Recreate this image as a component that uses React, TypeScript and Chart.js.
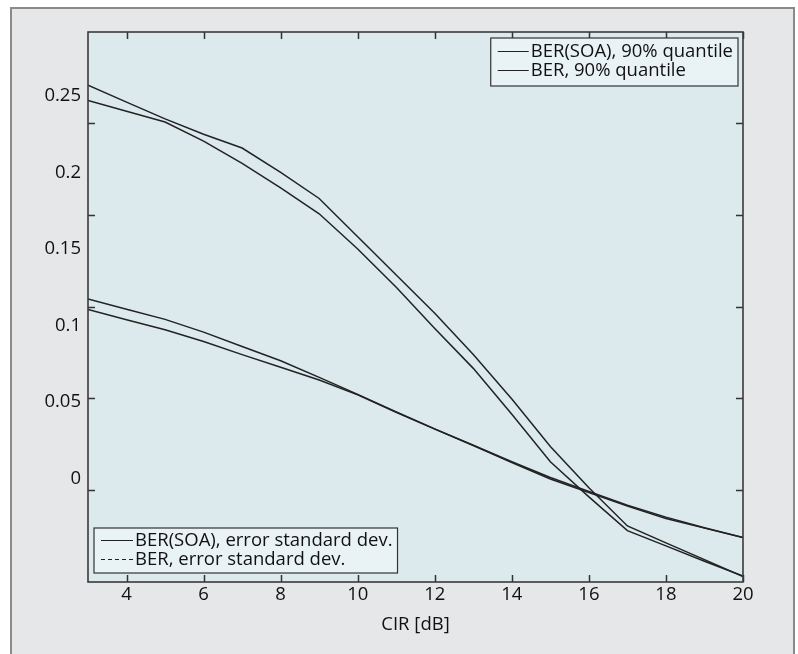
import React, { useEffect, useRef } from 'react';
import { Chart, registerables } from 'chart.js';

Chart.register(...registerables);

// ---- data ----
const cir = [3, 4, 5, 6, 7, 8, 9, 10, 11, 12, 13, 14, 15, 16, 17, 18, 19, 20];
const berSoaQuantile = [0.257, 0.246, 0.235, 0.225, 0.216, 0.2, 0.183, 0.158, 0.133, 0.108, 0.081, 0.052, 0.021, -0.006, -0.031, -0.042, -0.053, -0.064];
const berQuantile = [0.247, 0.24, 0.233, 0.2205, 0.206, 0.19, 0.173, 0.15, 0.125, 0.098, 0.072, 0.042, 0.011, -0.012, -0.034, -0.044, -0.054, -0.0637];
const berSoaStd = [0.1173, 0.1106, 0.104, 0.0957, 0.0863, 0.077, 0.0661, 0.055, 0.0435, 0.0325, 0.0218, 0.011, 0.0007, -0.0085, -0.0174, -0.0252, -0.0321, -0.0386];
const berStd = [0.1105, 0.1038, 0.0972, 0.0895, 0.081, 0.0727, 0.0644, 0.0547, 0.0433, 0.0323, 0.0216, 0.0105, -0.0003, -0.0092, -0.018, -0.0261, -0.0324, -0.0386];

const xTickValues = [4, 6, 8, 10, 12, 14, 16, 18, 20];
const yTickLabels = [0, 0.05, 0.1, 0.15, 0.2, 0.25];
const yMarkValues = [0, 0.05, 0.1, 0.15, 0.2];

const seriesLabels = [
  'BER(SOA), 90% quantile',
  'BER, 90% quantile',
  'BER(SOA), error standard dev.',
  'BER, error standard dev.',
];

const FONT = '"Open Sans", "Noto Sans", sans-serif';
const FS = 18.5;
const INK = '#222222';

const framePlugin = {
  id: 'frameAndLegends',
  beforeDraw(chart: any) {
    const { ctx, chartArea: a } = chart;
    ctx.save();
    ctx.fillStyle = '#dceaed';
    ctx.fillRect(a.left, a.top, a.right - a.left, a.bottom - a.top);
    ctx.restore();
  },
  afterDatasetsDraw(chart: any) {
    const { ctx, chartArea: a } = chart;
    const xs = chart.scales.x;
    const ym = chart.scales.yMarks;
    const tl = 7;
    ctx.save();
    ctx.strokeStyle = '#333';
    ctx.lineWidth = 1.5;
    ctx.beginPath();
    xTickValues.forEach((v) => {
      const px = Math.round(xs.getPixelForValue(v)) + 0.5;
      ctx.moveTo(px, a.bottom);
      ctx.lineTo(px, a.bottom - tl);
      ctx.moveTo(px, a.top);
      ctx.lineTo(px, a.top + tl);
    });
    yMarkValues.forEach((v) => {
      const py = Math.round(ym.getPixelForValue(v)) + 0.5;
      ctx.moveTo(a.left, py);
      ctx.lineTo(a.left + tl, py);
      ctx.moveTo(a.right, py);
      ctx.lineTo(a.right - tl, py);
    });
    ctx.stroke();
    ctx.lineWidth = 1.6;
    ctx.strokeStyle = '#3a3a3a';
    ctx.strokeRect(a.left, a.top, a.right - a.left, a.bottom - a.top);

    // legends
    const ds = chart.data.datasets;
    const boxes = [
      { items: [0, 1], anchor: 'tr', dx: 5, dy: 6, h: 48, first: 12.5 },
      { items: [2, 3], anchor: 'bl', dx: 6, dy: 9, h: 45, first: 12 },
    ];
    ctx.font = FS + 'px ' + FONT;
    boxes.forEach((b) => {
      const tw = Math.max(...b.items.map((i: number) => ctx.measureText(ds[i].label).width));
      const sample = b.anchor === 'tr' ? 31 : 32;
      const w = 7 + sample + 2 + tw + 5;
      const left = b.anchor === 'tr' ? a.right - b.dx - w : a.left + b.dx;
      const top = b.anchor === 'tr' ? a.top + b.dy : a.bottom - b.dy - b.h;
      ctx.fillStyle = '#e9f3f5';
      ctx.fillRect(left, top, w, b.h);
      ctx.lineWidth = 1.2;
      ctx.strokeStyle = '#333';
      ctx.setLineDash([]);
      ctx.strokeRect(left, top, w, b.h);
      b.items.forEach((i: number, k: number) => {
        const cy = top + b.first + k * 19;
        ctx.strokeStyle = INK;
        ctx.lineWidth = 1;
        ctx.setLineDash(ds[i].legendDash || []);
        ctx.beginPath();
        ctx.moveTo(left + 7, Math.round(cy) + 0.5);
        ctx.lineTo(left + 7 + sample, Math.round(cy) + 0.5);
        ctx.stroke();
        ctx.setLineDash([]);
        ctx.fillStyle = '#111';
        ctx.textBaseline = 'middle';
        ctx.textAlign = 'left';
        ctx.fillText(ds[i].label, left + 7 + sample + 2, cy + 1);
      });
    });
    ctx.restore();
  },
};

function App() {
  const ref = useRef<HTMLCanvasElement | null>(null);

  useEffect(() => {
    if (!ref.current) return;
    const mk = (label: string, data: number[], dash?: number[]) => ({
      label,
      data: cir.map((x, i) => ({ x, y: data[i] })),
      borderColor: INK,
      borderWidth: 1.5,
      pointRadius: 0,
      fill: false,
      tension: 0,
      legendDash: dash,
    });
    const chart = new Chart(ref.current, {
      type: 'line',
      data: {
        datasets: [
          mk(seriesLabels[0], berSoaQuantile),
          mk(seriesLabels[1], berQuantile),
          mk(seriesLabels[2], berSoaStd),
          mk(seriesLabels[3], berStd, [4, 3]),
        ] as any,
      },
      options: {
        animation: false,
        responsive: false,
        devicePixelRatio: 1,
        layout: { padding: { left: 0, right: 55, top: 32, bottom: 0 } },
        plugins: { legend: { display: false }, tooltip: { enabled: false } },
        scales: {
          x: {
            type: 'linear',
            min: 3,
            max: 20,
            grid: { display: false, drawTicks: false },
            border: { display: false },
            afterBuildTicks: (axis: any) => {
              axis.ticks = xTickValues.map((v) => ({ value: v }));
            },
            afterFit: (axis: any) => {
              axis.height = 72;
            },
            ticks: {
              padding: 2,
              color: '#111',
              font: { family: FONT, size: FS, lineHeight: 1.2 },
              maxRotation: 0,
              autoSkip: false,
            },
            title: {
              display: true,
              text: 'CIR [dB]',
              color: '#111',
              font: { family: FONT, size: FS, lineHeight: 1.2 },
              padding: { top: 0, bottom: 18 },
            },
          },
          y: {
            type: 'linear',
            position: 'left',
            min: -0.0676,
            max: 0.2918,
            grid: { display: false, drawTicks: false },
            border: { display: false },
            afterBuildTicks: (axis: any) => {
              axis.ticks = yTickLabels.map((v) => ({ value: v }));
            },
            afterFit: (axis: any) => {
              axis.width = 88;
            },
            ticks: {
              padding: 7,
              color: '#111',
              font: { family: FONT, size: FS, lineHeight: 1.2 },
              callback: (v: any) => String(Number(v.toFixed(2))),
            },
          },
          yMarks: {
            type: 'linear',
            position: 'right',
            display: false,
            min: -0.0501,
            max: 0.2496,
          },
        },
      } as any,
      plugins: [framePlugin],
    });
    return () => chart.destroy();
  }, []);

  return (
    <div style={{ position: 'absolute', left: 0, top: 0, width: 798, height: 654, background: '#ffffff', overflow: 'hidden' }}>
      <div
        style={{
          position: 'absolute',
          left: 10,
          top: 7,
          width: 785,
          height: 720,
          boxSizing: 'border-box',
          background: '#e6e7e9',
          border: '2px solid #8a8a8a',
        }}
      />
      <canvas ref={ref} width={798} height={654} style={{ position: 'absolute', left: 0, top: 0 }} />
    </div>
  );
}

export default App;
